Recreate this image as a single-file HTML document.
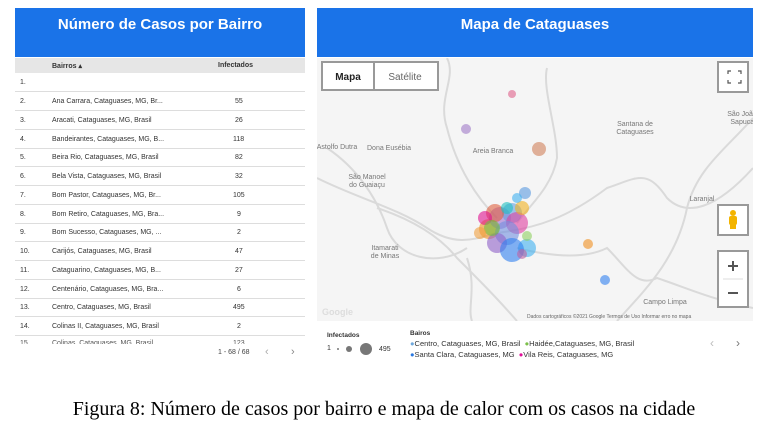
<!DOCTYPE html>
<html><head><meta charset="utf-8"><style>
*{margin:0;padding:0;box-sizing:border-box}
body{width:768px;height:430px;background:#fff;position:relative;overflow:hidden;font-family:"Liberation Sans",sans-serif}
.a{position:absolute}
.hdr{background:#1a73e8;color:#fff;font-weight:bold;font-size:15px;text-align:center;padding-top:8px}
.row{position:absolute;left:15px;width:290px;height:19px;border-bottom:1px solid #ddd;font-size:7px;color:#333}
.row span{position:absolute;top:6px}
</style></head><body>
<div class="a hdr" style="left:15px;top:8px;width:290px;height:49px">Número de Casos por Bairro</div>
<div class="a" style="left:15px;top:58px;width:290px;height:15px;background:#e6e6e6;font-size:7px;font-weight:bold;color:#333">
<span class="a" style="left:37px;top:4px">Bairros ▴</span><span class="a" style="left:203px;top:4px">Infectados</span></div>
<div class="row" style="top:73px"><span style="left:5px">1.</span></div>
<div class="row" style="top:92px"><span style="left:5px">2.</span><span style="left:37px">Ana Carrara, Cataguases, MG, Br...</span><span style="left:220px">55</span></div>
<div class="row" style="top:111px"><span style="left:5px">3.</span><span style="left:37px">Aracati, Cataguases, MG, Brasil</span><span style="left:220px">26</span></div>
<div class="row" style="top:130px"><span style="left:5px">4.</span><span style="left:37px">Bandeirantes, Cataguases, MG, B...</span><span style="left:218px">118</span></div>
<div class="row" style="top:148px"><span style="left:5px">5.</span><span style="left:37px">Beira Rio, Cataguases, MG, Brasil</span><span style="left:220px">82</span></div>
<div class="row" style="top:167px"><span style="left:5px">6.</span><span style="left:37px">Bela Vista, Cataguases, MG, Brasil</span><span style="left:220px">32</span></div>
<div class="row" style="top:186px"><span style="left:5px">7.</span><span style="left:37px">Bom Pastor, Cataguases, MG, Br...</span><span style="left:218px">105</span></div>
<div class="row" style="top:205px"><span style="left:5px">8.</span><span style="left:37px">Bom Retiro, Cataguases, MG, Bra...</span><span style="left:222px">9</span></div>
<div class="row" style="top:223px"><span style="left:5px">9.</span><span style="left:37px">Bom Sucesso, Cataguases, MG, ...</span><span style="left:222px">2</span></div>
<div class="row" style="top:242px"><span style="left:5px">10.</span><span style="left:37px">Carijós, Cataguases, MG, Brasil</span><span style="left:220px">47</span></div>
<div class="row" style="top:261px"><span style="left:5px">11.</span><span style="left:37px">Cataguarino, Cataguases, MG, B...</span><span style="left:220px">27</span></div>
<div class="row" style="top:280px"><span style="left:5px">12.</span><span style="left:37px">Centenário, Cataguases, MG, Bra...</span><span style="left:222px">6</span></div>
<div class="row" style="top:298px"><span style="left:5px">13.</span><span style="left:37px">Centro, Cataguases, MG, Brasil</span><span style="left:218px">495</span></div>
<div class="row" style="top:317px"><span style="left:5px">14.</span><span style="left:37px">Colinas II, Cataguases, MG, Brasil</span><span style="left:222px">2</span></div>
<div class="a" style="left:15px;top:336px;width:290px;height:8px;overflow:hidden;font-size:7px;color:#555"><span class="a" style="left:5px;top:4px">15.</span><span class="a" style="left:37px;top:4px">Colinas, Cataguases, MG, Brasil</span><span class="a" style="left:218px;top:4px">123</span></div>
<div class="a" style="left:218px;top:349px;font-size:7px;color:#444">1 - 68 / 68</div>
<div class="a" style="left:265px;top:346px;font-size:11px;color:#aaa">‹</div>
<div class="a" style="left:291px;top:346px;font-size:11px;color:#888">›</div>

<div class="a hdr" style="left:317px;top:8px;width:436px;height:49px">Mapa de Cataguases</div>
<svg class="a" style="left:317px;top:58px" width="436" height="263" viewBox="0 0 436 263">
<rect width="436" height="263" fill="#f5f5f5"/>
<g fill="none" stroke="#dadada" stroke-width="2">
<path d="M0,120 C40,140 80,150 110,170 C140,190 160,180 180,175 C220,170 250,160 290,130 C320,120 330,110 350,140 C370,160 400,150 436,110"/>
<path d="M130,0 C140,20 120,40 130,70 C140,110 160,140 180,160"/>
<path d="M230,10 C225,30 240,70 240,100 C235,130 210,150 200,165"/>
<path d="M10,90 C40,110 60,140 70,170 C80,200 120,210 150,190"/>
<path d="M200,190 C240,200 270,200 290,190 C310,210 320,230 340,220 C370,230 390,240 436,250"/>
<path d="M150,200 C160,230 150,250 155,263"/>
<path d="M300,263 C330,230 360,200 370,150 C380,110 410,90 436,60"/>
<path d="M60,150 C90,160 120,175 140,200 C160,220 180,240 200,263"/>
</g>
<g font-size="7" fill="#777" text-anchor="middle">
<text x="20" y="91">Astolfo Dutra</text><text x="72" y="92">Dona Eusébia</text>
<text x="176" y="95">Areia Branca</text><text x="318" y="68">Santana de</text><text x="318" y="76">Cataguases</text>
<text x="50" y="121">São Manoel</text><text x="50" y="129">do Guaiaçu</text>
<text x="68" y="192">Itamarati</text><text x="68" y="200">de Minas</text>
<text x="385" y="143">Laranjal</text><text x="348" y="246">Campo Limpa</text>
<text x="425" y="58">São João</text><text x="428" y="66">Sapucaia</text>
</g>
<text x="5" y="257" font-size="9" font-weight="bold" fill="#ddd">Google</text>
<text x="210" y="260" font-size="5" fill="#666">Dados cartográficos ©2021 Google    Termos de Uso    Informar erro no mapa</text>
<g fill-opacity="0.6">
<circle cx="195" cy="36" r="4" fill="#e0608a"/><circle cx="149" cy="71" r="5" fill="#a07ac8"/>
<circle cx="222" cy="91" r="7" fill="#d0805a"/><circle cx="208" cy="135" r="6" fill="#5a9ae0"/>
<circle cx="172" cy="171" r="10" fill="#f09020"/><circle cx="183" cy="160" r="11" fill="#a070d0"/>
<circle cx="195" cy="155" r="10" fill="#60a0e0"/><circle cx="200" cy="165" r="11" fill="#e040a0"/>
<circle cx="190" cy="175" r="12" fill="#7090e0"/><circle cx="178" cy="155" r="9" fill="#e06040"/>
<circle cx="205" cy="150" r="7" fill="#f0b020"/><circle cx="168" cy="160" r="7" fill="#e01090"/>
<circle cx="180" cy="185" r="10" fill="#9060c8"/><circle cx="210" cy="190" r="9" fill="#40b0f0"/>
<circle cx="195" cy="192" r="12" fill="#3080f0"/><circle cx="175" cy="170" r="8" fill="#70c040"/>
<circle cx="190" cy="150" r="6" fill="#20c0c0"/><circle cx="210" cy="178" r="5" fill="#90d060"/>
<circle cx="163" cy="175" r="6" fill="#f0a040"/><circle cx="200" cy="140" r="5" fill="#40b0f0"/>
<circle cx="205" cy="196" r="5" fill="#c060a0"/>
<circle cx="271" cy="186" r="5" fill="#f09020"/><circle cx="288" cy="222" r="5" fill="#3080f0"/>
</g>
<rect x="5" y="4" width="116" height="28" fill="#fff" stroke="#999" stroke-width="2"/>
<line x1="57" y1="4" x2="57" y2="32" stroke="#999" stroke-width="2"/>
<text x="31" y="22" font-size="10" font-weight="bold" text-anchor="middle" fill="#222">Mapa</text>
<text x="88" y="22" font-size="10" text-anchor="middle" fill="#666">Satélite</text>
<rect x="401" y="4" width="30" height="30" fill="#fff" stroke="#999" stroke-width="2"/>
<path d="M411,16v-3h3M421,13h3v3M424,22v3h-3M414,25h-3v-3" stroke="#555" fill="none" stroke-width="1.2"/>
<rect x="401" y="147" width="30" height="30" fill="#fff" stroke="#999" stroke-width="2"/>
<circle cx="416" cy="155" r="3" fill="#f3b400"/><rect x="412" y="158" width="8" height="9" rx="2" fill="#f3b400"/><rect x="413" y="166" width="6" height="5" fill="#f3b400"/>
<rect x="401" y="193" width="30" height="56" fill="#fff" stroke="#999" stroke-width="2"/>
<line x1="406" y1="221" x2="426" y2="221" stroke="#ddd"/>
<path d="M411,208h10M416,203v10M411,235h10" stroke="#555" stroke-width="2"/>
</svg>
<div class="a" style="left:327px;top:332px;font-size:6.5px;font-weight:bold;color:#333">Infectados</div>
<div class="a" style="left:327px;top:345px;font-size:7px;color:#333">1</div>
<div class="a" style="left:337px;top:348px;width:2px;height:2px;border-radius:50%;background:#777"></div>
<div class="a" style="left:346px;top:346px;width:6px;height:6px;border-radius:50%;background:#777"></div>
<div class="a" style="left:360px;top:343px;width:12px;height:12px;border-radius:50%;background:#777"></div>
<div class="a" style="left:379px;top:346px;font-size:7px;color:#333">495</div>
<div class="a" style="left:410px;top:330px;font-size:6.5px;font-weight:bold;color:#333">Bairos</div>
<div class="a" style="left:410px;top:339px;font-size:7.5px;color:#333;line-height:10.5px">
<span style="color:#6fa8dc">●</span>Centro, Cataguases, MG, Brasil &nbsp;<span style="color:#7cc04a">●</span>Haidée,Cataguases, MG, Brasil<br>
<span style="color:#2a78e0">●</span>Santa Clara, Cataguases, MG &nbsp;<span style="color:#e0109a">●</span>Vila Reis, Cataguases, MG</div>
<div class="a" style="left:710px;top:336px;font-size:12px;color:#bbb">‹</div>
<div class="a" style="left:736px;top:336px;font-size:12px;color:#777">›</div>
<div class="a" style="left:0;top:398px;width:768px;text-align:center;font-family:'Liberation Serif',serif;font-size:20px;color:#000">Figura 8: Número de casos por bairro e mapa de calor com os casos na cidade</div>
</body></html>
